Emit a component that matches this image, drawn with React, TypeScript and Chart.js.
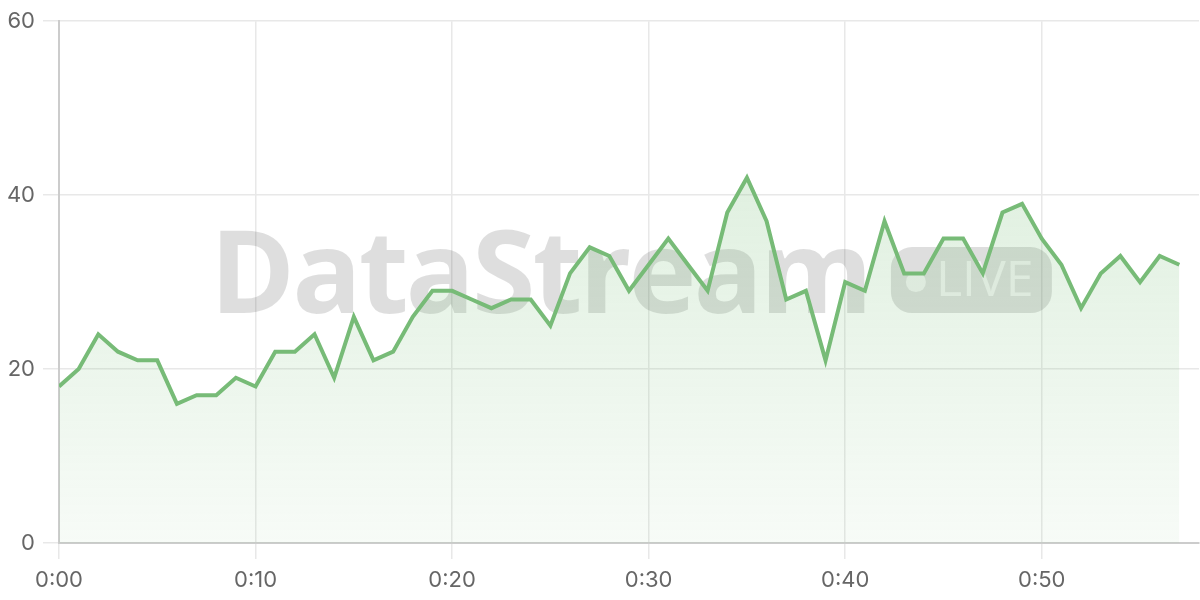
import { useEffect, useRef } from "react";
import { Chart, registerables } from "chart.js";

Chart.register(...registerables);

const minutes = [
  0, 1, 2, 3, 4, 5, 6, 7, 8, 9,
  10, 11, 12, 13, 14, 15, 16, 17, 18, 19,
  20, 21, 22, 23, 24, 25, 26, 27, 28, 29,
  30, 31, 32, 33, 34, 35, 36, 37, 38, 39,
  40, 41, 42, 43, 44, 45, 46, 47, 48, 49,
  50, 51, 52, 53, 54, 55, 56, 57,
];

const values = [
  18, 20, 24, 22, 21, 21, 16, 17, 17, 19,
  18, 22, 22, 24, 19, 26, 21, 22, 26, 29,
  29, 28, 27, 28, 28, 25, 31, 34, 33, 29,
  32, 35, 32, 29, 38, 42, 37, 28, 29, 21,
  30, 29, 37, 31, 31, 35, 35, 31, 38, 39,
  35, 32, 27, 31, 33, 30, 33, 32,
];

const xTickValues = [0, 10, 20, 30, 40, 50];
const yTickValues = [0, 20, 40, 60];

const watermarkText = "DataStream";
const badgeText = "LIVE";

const watermarkPlugin = {
  id: "watermark",
  beforeDatasetsDraw(chart: any) {
    const { ctx, chartArea } = chart;
    const { left, right, top, bottom } = chartArea;
    ctx.save();
    ctx.font = 'bold 115px "Open Sans"';
    (ctx as any).letterSpacing = "-3px";
    const tw = ctx.measureText(watermarkText).width;
    const gap = 21;
    const bw = 161;
    const bh = 66;
    const total = tw + gap + bw;
    const cx = (left + right) / 2 + 2;
    const cy = (top + bottom) / 2 - 2;
    const x0 = cx - total / 2;
    ctx.fillStyle = "rgba(0,0,0,0.13)";
    ctx.textBaseline = "alphabetic";
    ctx.textAlign = "left";
    ctx.fillText(watermarkText, x0, cy + bh / 2);
    (ctx as any).letterSpacing = "0px";

    const bx = x0 + tw + gap;
    const by = cy - bh / 2;
    ctx.beginPath();
    ctx.roundRect(bx, by, bw, bh, 21);
    ctx.fillStyle = "rgba(0,0,0,0.13)";
    ctx.fill();

    ctx.fillStyle = "rgba(255,255,255,0.65)";
    ctx.beginPath();
    ctx.arc(bx + 25, cy + 2, 10, 0, Math.PI * 2);
    ctx.fill();

    ctx.font = '50px "Open Sans"';
    ctx.fillText(badgeText, bx + 45, cy + 16);
    ctx.restore();
  },
};

function fmt(v: number) {
  const h = Math.floor(v / 60);
  const m = v % 60;
  return `${h}:${String(m).padStart(2, "0")}`;
}

export default function App() {
  const ref = useRef<HTMLCanvasElement | null>(null);

  useEffect(() => {
    if (!ref.current) return;
    const chart = new Chart(ref.current, {
      type: "line",
      data: {
        datasets: [
          {
            data: minutes.map((m, i) => ({ x: m, y: values[i] })),
            borderColor: "#77bb77",
            borderWidth: 4,
            tension: 0,
            pointRadius: 0,
            fill: "origin",
            backgroundColor: (c: any) => {
              const area = c.chart.chartArea;
              if (!area) return "rgba(120,190,120,0.15)";
              const g = c.chart.ctx.createLinearGradient(0, area.top, 0, area.bottom);
              g.addColorStop(0, "rgba(120,190,120,0.3)");
              g.addColorStop(1, "rgba(120,190,120,0.06)");
              return g;
            },
          },
        ],
      },
      options: {
        responsive: false,
        animation: false,
        layout: { padding: { top: 21, right: 1, left: 0, bottom: 0 } },
        plugins: {
          legend: { display: false },
          tooltip: { enabled: false },
        },
        scales: {
          x: {
            type: "linear",
            min: 0,
            max: 58,
            afterBuildTicks: (s: any) => {
              s.ticks = xTickValues.map((v) => ({ value: v }));
            },
            afterFit: (s: any) => {
              s.height = 57;
            },
            ticks: {
              callback: (v: any) => fmt(Number(v)),
              font: { family: "Inter", size: 22 },
              color: "#666",
              padding: 8,
              maxRotation: 0,
            },
            grid: { color: "#e8e8e8", lineWidth: 1.5, tickLength: 16 },
            border: { color: "#cccccc", width: 2 },
          },
          y: {
            min: 0,
            max: 60,
            afterBuildTicks: (s: any) => {
              s.ticks = yTickValues.map((v) => ({ value: v }));
            },
            afterFit: (s: any) => {
              s.width = 59;
            },
            ticks: {
              font: { family: "Inter", size: 22 },
              color: "#666",
              padding: 8,
            },
            grid: { color: "#e8e8e8", lineWidth: 1.5, tickLength: 16 },
            border: { color: "#cccccc", width: 2 },
          },
        },
      },
      plugins: [watermarkPlugin],
    });
    return () => chart.destroy();
  }, []);

  return (
    <div style={{ position: "absolute", left: 0, top: 0, width: 1200, height: 600 }}>
      <canvas ref={ref} width={1200} height={600} />
    </div>
  );
}
